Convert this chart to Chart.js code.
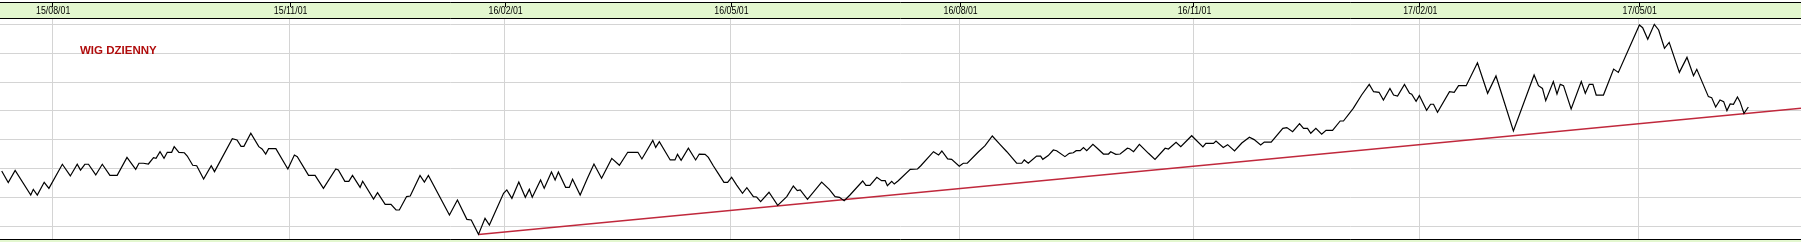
<!DOCTYPE html>
<html>
<head>
<meta charset="utf-8">
<script src="https://cdn.jsdelivr.net/npm/chart.js@4/dist/chart.umd.min.js"></script>
<style>
  html, body { margin: 0; padding: 0; background: #fff; }
  #wrap { width: 1801px; height: 242px; }
</style>
</head>
<body>
<div id="wrap"><canvas id="wig" width="1801" height="242"></canvas></div>
<script>
// ─── Data ──────────────────────────────────────────────────────────────────────
// x: numer sesji (od poczatku wykresu), y: poziom indeksu WIG
const sesje = [
  0.0, 1.8, 3.7, 8.0, 8.7, 9.8, 11.7, 13.0, 16.7, 18.9, 20.8, 21.7, 22.9, 23.9, 25.9, 27.7,
  29.8, 31.8, 34.5, 36.9, 37.8, 39.0, 40.4, 41.8, 42.5, 43.6, 44.7, 45.6, 46.8, 47.5, 48.8, 50.3,
  51.1, 52.6, 53.7, 55.6, 57.7, 58.6, 63.5, 64.8, 65.9, 66.7, 68.6, 70.8, 71.7, 72.7, 73.5, 75.5,
  78.8, 80.6, 81.4, 84.5, 86.3, 88.6, 92.0, 92.7, 94.5, 95.6, 96.6, 98.7, 99.4, 102.4, 103.5, 105.6,
  107.2, 108.6, 109.5, 111.5, 112.5, 115.2, 116.4, 117.5, 123.3, 125.5, 128.1, 129.3, 131.3, 133.1, 134.3, 138.2,
  139.1, 140.5, 142.4, 144.2, 145.3, 146.1, 148.4, 149.4, 151.4, 152.4, 153.3, 155.3, 156.3, 157.2, 159.3, 161.3,
  163.1, 165.2, 168.0, 170.1, 172.4, 175.2, 176.3, 179.3, 180.1, 181.1, 184.1, 185.4, 186.1, 187.1, 189.1, 191.1,
  192.1, 193.7, 194.6, 196.0, 197.4, 198.9, 199.9, 201.0, 202.4, 204.0, 205.2, 207.0, 207.9, 209.0, 211.3, 213.7,
  216.2, 218.0, 219.1, 219.9, 221.9, 225.8, 227.9, 229.5, 230.7, 232.0, 233.6, 237.1, 238.0, 239.1, 241.0, 242.3,
  243.3, 243.9, 245.1, 245.8, 246.9, 250.2, 252.2, 253.1, 256.6, 258.0, 258.9, 260.5, 261.6, 263.7, 264.8, 265.9,
  269.0, 270.8, 272.8, 274.9, 276.8, 279.5, 280.9, 281.6, 282.7, 285.0, 286.1, 286.7, 288.2, 289.6, 290.5, 292.8,
  294.0, 295.1, 295.9, 297.0, 297.9, 298.8, 300.5, 301.7, 303.4, 304.8, 305.4, 306.8, 308.0, 310.0, 310.6, 311.7,
  313.3, 315.8, 317.6, 320.4, 321.3, 323.4, 324.7, 327.7, 330.8, 331.6, 333.7, 334.4, 336.4, 337.6, 339.5, 341.5,
  343.6, 344.9, 346.7, 347.7, 349.6, 352.8, 353.9, 355.5, 357.4, 358.5, 359.6, 360.5, 361.9, 363.5, 364.7, 366.5,
  368.6, 369.5, 372.2, 374.5, 376.6, 377.8, 379.3, 380.5, 382.3, 383.3, 384.4, 386.3, 387.7, 388.3, 389.5, 390.4,
  392.4, 393.5, 394.3, 395.4, 398.7, 400.0, 401.2, 403.3, 406.4, 409.2, 411.5, 416.3, 422.0, 423.2, 424.3, 425.2,
  427.3, 428.3, 429.2, 430.1, 432.2, 435.0, 436.1, 437.2, 438.2, 439.1, 441.1, 443.9, 445.2, 451.0, 451.9, 453.3,
  455.1, 456.3, 457.9, 459.2, 462.0, 464.1, 465.9, 466.8, 470.0, 470.9, 472.0, 473.2, 474.2, 475.1, 476.0, 476.9,
  478.0, 478.7, 479.8, 481.0
];
const wig = [
  47830, 47030, 47880, 46170, 46560, 46170, 47050, 46630, 48300, 47490, 48300, 47900, 48300, 48300, 47560, 48300,
  47530, 47530, 48780, 47950, 48370, 48370, 48320, 48760, 48710, 49170, 48710, 49130, 49130, 49520, 49130, 49100,
  48870, 48230, 48200, 47280, 48200, 47790, 50080, 49980, 49540, 49540, 50450, 49520, 49360, 49010, 49380, 49380,
  47970, 48940, 48830, 47530, 47530, 46630, 47970, 47900, 47120, 47120, 47530, 46700, 47120, 45890, 46330, 45520,
  45520, 45130, 45130, 46060, 46100, 47530, 47070, 47530, 44780, 45820, 44480, 44440, 43440, 44550, 44090, 46290,
  46520, 45940, 47070, 46010, 46560, 46010, 47210, 46630, 47760, 47210, 47760, 46700, 46700, 47260, 46170, 47330,
  48320, 47330, 48710, 48230, 49130, 49130, 48670, 49960, 49470, 49870, 48600, 48600, 48990, 48570, 49410, 48600,
  49010, 48990, 48780, 48180, 47630, 47050, 47050, 47400, 46860, 46290, 46680, 46060, 46030, 45710, 46360, 45450,
  46060, 46790, 46470, 46520, 45870, 47070, 46560, 46060, 46010, 45780, 46170, 47140, 46840, 46840, 47400, 47160,
  47160, 46820, 47120, 46930, 47160, 47950, 47970, 48200, 49170, 48940, 49220, 48670, 48640, 48160, 48370, 48370,
  49170, 49590, 50260, 49680, 49170, 48370, 48370, 48600, 48370, 48870, 48870, 48640, 48900, 49290, 49240, 48830,
  49060, 49100, 49240, 49240, 49450, 49240, 49680, 49410, 49010, 49010, 49170, 48990, 49010, 49410, 49380, 49170,
  49680, 49060, 48640, 49410, 49360, 49820, 49520, 50280, 49500, 49750, 49750, 49910, 49470, 49660, 49220, 49770,
  50170, 50010, 49640, 49840, 49840, 50790, 50840, 50560, 51120, 50790, 50790, 50450, 50790, 50380, 50650, 50650,
  51300, 51300, 52180, 53100, 53840, 53330, 53290, 52760, 53560, 53100, 53030, 53840, 53220, 53150, 52660, 53060,
  52040, 52460, 52460, 51900, 53330, 53290, 53750, 53750, 55340, 53220, 54420, 50610, 54490, 53750, 53560, 52710,
  54030, 53170, 53840, 53750, 52130, 54030, 53220, 53840, 53840, 53100, 53100, 54900, 54670, 57950, 57770, 56960,
  58000, 57610, 56340, 56750, 54670, 55710, 54440, 54880, 52990, 52920, 52270, 52760, 52640, 52020, 52480, 52460,
  52960, 52640, 51830, 52270
];

// linia trendu (od dolka do prawej krawedzi)
const trendSesje = [131.3, 495.5];
const trendWig = [43440, 52180];

// os czasu: poczatki miesiecy
const tickSesje = [13.9, 79.3, 138.5, 200.7, 263.8, 328.2, 390.4, 450.8];
const tickLabels = ['15/08/01', '15/11/01', '16/02/01', '16/05/01', '16/08/01', '16/11/01', '17/02/01', '17/05/01'];

// linie siatki poziomej
const gridWig = [44000, 46000, 48000, 50000, 52000, 54000, 56000, 58000];

// ─── Look ──────────────────────────────────────────────────────────────────────
const HEADER_GREEN = '#e3f7cf';
const GRID = '#d4d4d4';

// Header band, frame lines, tick marks, narrow date labels and the corner label
const framePlugin = {
  id: 'frame',
  beforeDraw(chart) {
    const { ctx, width, height, chartArea: a } = chart;
    ctx.save();
    ctx.fillStyle = '#fff';
    ctx.fillRect(0, 0, width, height);
    ctx.fillStyle = HEADER_GREEN;
    ctx.fillRect(0, 2, width, a.top - 2);
    ctx.fillRect(0, a.bottom, width, height - a.bottom);
    ctx.restore();
  },
  afterDraw(chart) {
    const { ctx, width, chartArea: a, scales } = chart;
    ctx.save();
    ctx.strokeStyle = '#000';
    ctx.lineWidth = 1;
    ctx.beginPath();
    ctx.moveTo(0, 2.5); ctx.lineTo(width, 2.5);
    ctx.moveTo(0, a.top - 0.5); ctx.lineTo(width, a.top - 0.5);
    ctx.moveTo(0, a.bottom + 0.5); ctx.lineTo(width, a.bottom + 0.5);
    tickSesje.forEach(v => {
      const px = Math.round(scales.x.getPixelForValue(v)) + 0.5;
      ctx.moveTo(px, 2.5); ctx.lineTo(px, 7);
    });
    ctx.stroke();

    // date labels, squeezed like the narrow font of the original
    ctx.fillStyle = '#000';
    ctx.font = "11px 'Liberation Sans', Arial, sans-serif";
    ctx.textAlign = 'center';
    ctx.textBaseline = 'middle';
    tickSesje.forEach((v, i) => {
      ctx.save();
      ctx.translate(scales.x.getPixelForValue(v) + 1, 11);
      ctx.scale(0.8, 1);
      ctx.fillText(tickLabels[i], 0, 0);
      ctx.restore();
    });

    ctx.textAlign = 'left';
    ctx.fillStyle = '#b00c0c';
    ctx.font = "bold 11.5px 'Liberation Sans', Arial, sans-serif";
    ctx.fillText('WIG DZIENNY', 80, 51);
    ctx.restore();
  }
};

new Chart(document.getElementById('wig'), {
  type: 'line',
  data: {
    datasets: [
      {
        label: 'WIG',
        data: sesje.map((s, i) => ({ x: s, y: wig[i] })),
        borderColor: '#000',
        borderWidth: 1.2,
        pointRadius: 0,
        tension: 0,
        order: 1
      },
      {
        label: 'trend',
        data: trendSesje.map((s, i) => ({ x: s, y: trendWig[i] })),
        borderColor: '#c0283c',
        borderWidth: 1.5,
        pointRadius: 0,
        tension: 0,
        order: 2
      }
    ]
  },
  options: {
    responsive: false,
    devicePixelRatio: 1,
    animation: false,
    layout: { padding: { left: 0, right: 0, top: 0, bottom: 3 } },
    plugins: { legend: { display: false }, tooltip: { enabled: false }, title: { display: false } },
    scales: {
      x: {
        type: 'linear',
        position: 'top',
        min: -0.47,
        max: 495.5,
        afterBuildTicks: s => { s.ticks = tickSesje.map(v => ({ value: v })); },
        afterFit: s => { s.height = 19; },
        grid: { color: GRID, drawTicks: false, lineWidth: 1 },
        border: { display: false },
        ticks: { display: false }
      },
      y: {
        type: 'linear',
        min: 43120,
        max: 58370,
        afterBuildTicks: s => { s.ticks = gridWig.map(v => ({ value: v })); },
        afterFit: s => { s.width = 0; },
        grid: { color: GRID, drawTicks: false, lineWidth: 1 },
        border: { display: false },
        ticks: { display: false }
      }
    }
  },
  plugins: [framePlugin]
});
</script>
</body>
</html>
